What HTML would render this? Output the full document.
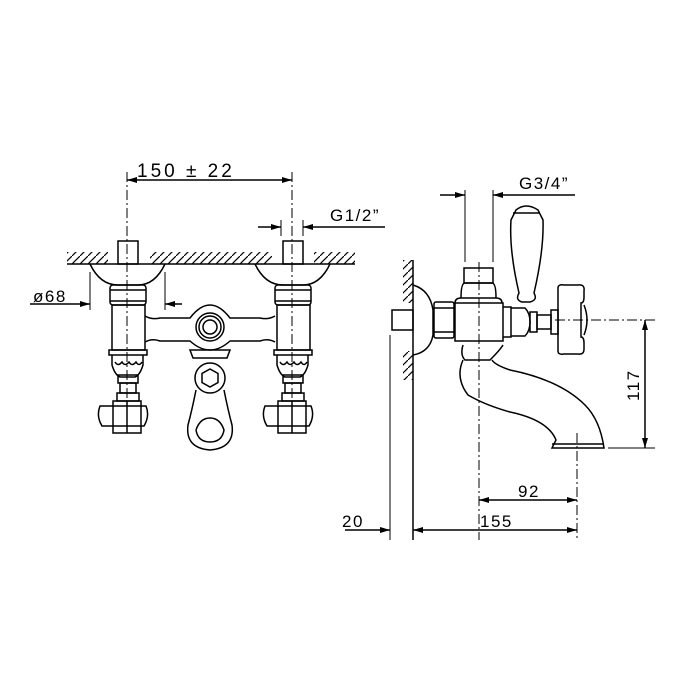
<!DOCTYPE html>
<html><head><style>body{margin:0;background:#fff}svg{display:block}text{font-family:"Liberation Sans",sans-serif;fill:#000;letter-spacing:1.5px}</style></head>
<body>
<svg width="700" height="700" viewBox="0 0 700 700" xmlns="http://www.w3.org/2000/svg">
<defs>
<marker id="a" viewBox="0 0 10 6" refX="10" refY="3" markerWidth="12" markerHeight="6" orient="auto-start-reverse" markerUnits="userSpaceOnUse"><path d="M0,0L10,3L0,6z" fill="#000"/></marker>
<pattern id="h" width="8" height="8" patternUnits="userSpaceOnUse"><path d="M0,8L8,0" stroke="#000" stroke-width="1.2"/></pattern>
</defs>
<g fill="none" stroke="#000" stroke-width="1.5">
<rect x="67" y="252" width="288" height="12" fill="url(#h)" stroke="none"/>
<rect x="108" y="250" width="42" height="16" fill="#fff" stroke="none"/>
<rect x="272" y="250" width="42" height="16" fill="#fff" stroke="none"/>
<line x1="67" y1="264" x2="355" y2="264"/>
<line x1="127" y1="172" x2="127" y2="420" stroke-dasharray="10,3,2,3" stroke-width="1"/>
<line x1="292" y1="172" x2="292" y2="420" stroke-dasharray="10,3,2,3" stroke-width="1"/>
<line x1="127" y1="180" x2="292" y2="180" marker-start="url(#a)" marker-end="url(#a)"/>
<line x1="281" y1="220" x2="281" y2="236" stroke-width="1"/><line x1="303" y1="220" x2="303" y2="236" stroke-width="1"/>
<line x1="258" y1="227" x2="281" y2="227" marker-end="url(#a)"/>
<line x1="385" y1="227" x2="303" y2="227" marker-end="url(#a)"/>
<line x1="90" y1="272" x2="90" y2="310" stroke-width="1"/><line x1="165" y1="272" x2="165" y2="310" stroke-width="1"/>
<line x1="30" y1="304" x2="90" y2="304" marker-end="url(#a)"/>
<line x1="182" y1="304" x2="165" y2="304" marker-end="url(#a)"/>
<g id="lv">
<rect x="118" y="241" width="20" height="23"/>
<path d="M90,264 Q100,285 118,285 L138,285 Q155,285 165,264"/>
<rect x="110" y="285" width="36" height="20" rx="3"/>
<line x1="110" y1="290" x2="146" y2="290"/><line x1="110" y1="301" x2="146" y2="301"/>
<rect x="112" y="305" width="33" height="45"/>
<path d="M109,350 h38 v5 h-38z"/>
<path d="M112,355 v10 q3,10 8,12 h15 q5,-2 8,-12 v-10"/>
<path d="M115,362 q3,5 7,0 q3,5 7,0 q3,5 7,0 q3,5 6,0"/>
<rect x="118" y="375" width="20" height="8"/>
<rect x="120" y="383" width="16" height="10"/>
<rect x="117" y="393" width="22" height="8"/>
<path d="M100,406 q-4,10 2,20 h42 q6,-10 2,-20z"/>
<rect x="113" y="401" width="28" height="32"/>
<line x1="127" y1="401" x2="127" y2="433"/>
</g>
<use href="#lv" transform="translate(165,0)"/>
<path d="M145,316 Q152,320 160,318 L190,318 Q200,305 210,305 Q220,305 230,318 L260,318 Q268,320 275,316"/>
<path d="M145,342 Q152,338 160,341 L190,341 Q200,350 210,350 Q220,350 230,341 L260,341 Q268,338 275,342"/>
<circle cx="210" cy="327" r="14"/><circle cx="210" cy="327" r="11"/><circle cx="210" cy="327" r="7"/>
<path d="M190,350 h40 l-3,8 h-34z"/>
<circle cx="210" cy="378" r="15"/>
<polygon points="210,369 218,373.5 218,382.5 210,387 202,382.5 202,373.5"/>
<path d="M196,390 Q192,410 188,425 Q185,448 210,450 Q235,448 232,425 Q228,410 224,390"/>
<path d="M196,430 Q200,418 210,418 Q220,418 224,430 Q222,442 210,442 Q198,442 196,430"/>
<rect x="403" y="260" width="10" height="120" fill="url(#h)" stroke="none"/>
<rect x="398" y="303" width="16" height="48" fill="#fff" stroke="none"/>
<line x1="413" y1="260" x2="413" y2="540"/>
<line x1="390" y1="335" x2="390" y2="540" stroke-width="1"/>
<rect x="392" y="310" width="21" height="20"/>
<path d="M413,285 Q430,290 433,310 L433,335 Q430,352 413,355"/>
<rect x="434" y="302" width="20" height="36" rx="2"/>
<line x1="434" y1="308" x2="454" y2="308"/><line x1="434" y1="332" x2="454" y2="332"/>
<rect x="455" y="303" width="48" height="38"/>
<path d="M464,268 h29 v15 h-29z"/><path d="M461,298 q0,-15 4,-15 h27 q4,0 4,15"/>
<path d="M455,303 q0,-5 6,-5 h35 q6,0 6,5"/>
<path d="M503,307 h8 v30 h-8"/>
<path d="M511,308 h14 q5,5 5,14 q0,9 -5,14 h-14"/>
<rect x="530" y="312" width="7" height="20"/>
<rect x="537" y="315" width="14" height="14"/>
<path d="M551,310 h7 v24 h-7z"/>
<path d="M558,288 q0,-4 6,-3 h14 q7,-1 6,6 v6 q0,6 -3,6 h0 v34 q3,0 3,6 v6 q0,6 -6,5 h-14 q-6,1 -6,-3z"/>
<path d="M584,305 q6,15 0,30"/>
<path d="M516,210 Q526,202 538,210 L543,220 Q544,250 534,293 Q538,300 530,302 L522,302 Q515,300 519,293 Q509,250 511,220z"/>
<line x1="513" y1="213" x2="540" y2="213"/>
<path d="M463,345 Q460,355 465,360 L490,360 Q500,350 503,345"/>
<path d="M463,360 Q455,378 468,395 Q485,405 510,412 Q548,420 556,440 L552,448 L604,448 Q600,420 585,405 Q560,380 510,370 Q495,365 492,360"/>
<line x1="552" y1="444" x2="604" y2="444"/>
<line x1="479" y1="262" x2="479" y2="540" stroke-dasharray="10,3,2,3" stroke-width="1"/>
<line x1="577" y1="433" x2="577" y2="540" stroke-dasharray="10,3,2,3" stroke-width="1"/>
<line x1="555" y1="320" x2="655" y2="320" stroke-dasharray="10,3,2,3" stroke-width="1"/>
<line x1="608" y1="448" x2="655" y2="448" stroke-width="1"/>
<line x1="645" y1="320" x2="645" y2="448" marker-start="url(#a)" marker-end="url(#a)"/>
<line x1="465" y1="190" x2="465" y2="262" stroke-width="1"/><line x1="493" y1="190" x2="493" y2="262" stroke-width="1"/>
<line x1="440" y1="195" x2="465" y2="195" marker-end="url(#a)"/>
<line x1="575" y1="195" x2="493" y2="195" marker-end="url(#a)"/>
<line x1="479" y1="500" x2="577" y2="500" marker-start="url(#a)" marker-end="url(#a)"/>
<line x1="413" y1="530" x2="577" y2="530" marker-start="url(#a)" marker-end="url(#a)"/>
<line x1="345" y1="530" x2="390" y2="530" marker-end="url(#a)"/>
</g>
<text x="137" y="177" font-size="19" style="letter-spacing:3px">150 ± 22</text>
<text x="330" y="221" font-size="17">G1/2”</text>
<text x="33" y="302" font-size="17">ø68</text>
<text x="519" y="189" font-size="17">G3/4”</text>
<text x="518" y="497" font-size="17">92</text>
<text x="480" y="527" font-size="17">155</text>
<text x="342" y="527" font-size="17">20</text>
<text transform="translate(639,401) rotate(-90)" font-size="17">117</text>
</svg>
</body></html>
